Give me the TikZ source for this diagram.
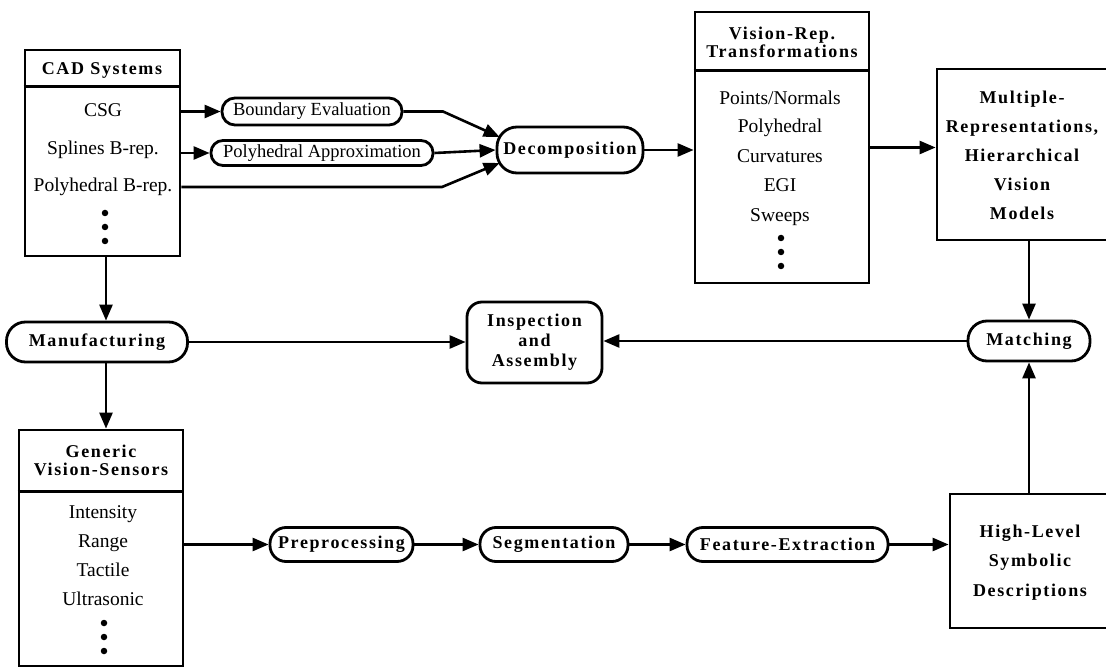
\documentclass[tikz,border=0pt]{standalone}
\usepackage{fontspec}
\setmainfont{Liberation Serif}
\newfontfamily\spc{Liberation Serif}[LetterSpace=9]
\usetikzlibrary{arrows.meta,calc}
\tikzset{
  ln/.style={line width=2.6pt},
  arr/.style={line width=2.6pt, -{Triangle[length=16pt,width=13pt]}},
  box/.style={draw, line width=2.8pt, inner sep=0pt},
  pill/.style={draw, line width=2.8pt, inner sep=0pt, rounded corners=#1},
  itm/.style={font=\fontsize{19.5}{22}\selectfont, inner sep=0pt, text height=13pt, text depth=4pt},
  pitm/.style={font=\fontsize{18.5}{22}\selectfont, text height=13pt, text depth=4pt},
  bld/.style={font=\fontsize{18}{#1}\selectfont\spc\bfseries, inner sep=0pt, align=center},
  bld/.default=20,
  dotn/.style={circle, fill, inner sep=0pt, minimum size=6.5pt},
}
\begin{document}
\begin{tikzpicture}[x=1pt,y=-1pt]
\useasboundingbox (0,0) rectangle (1106,668);
\clip (0,0) rectangle (1106,668);

% ---------- CAD Systems ----------
\node[box, minimum width=155pt, minimum height=206pt] (cad) at (102.5,153) {};
\draw[ln] ([yshift=-38pt]cad.north west) -- ([yshift=-38pt]cad.north east);
\node[bld] (cadt) at (102,70) {CAD\hspace{0.35em}Systems};
\node[itm] (c1) at (103,112) {CSG};
\node[itm] (c2) at (103,150) {Splines B-rep.};
\node[itm] (c3) at (103,187) {Polyhedral B-rep.};
\node[dotn] (cd1) at (105,213) {};
\node[dotn] (cd2) at (105,227) {};
\node[dotn] (cd3) at (105,241) {};

% ---------- top row ----------
\node[pill=13pt, pitm, minimum width=180pt, minimum height=27pt] (be) at (312,111.5) {Boundary Evaluation};
\node[pill=12pt, pitm, minimum width=222pt, minimum height=25pt] (pa) at (322,153) {Polyhedral Approximation};
\node[pill=20pt, bld, minimum width=146pt, minimum height=46pt] (dec) at (570,150) {Decomposition};

% ---------- Vision-Rep box ----------
\node[box, minimum width=174pt, minimum height=271pt] (vrb) at (782,147.5) {};
\draw[ln] ([yshift=-60pt]vrb.north west) -- ([yshift=-60pt]vrb.north east);
\node[bld=18] (vrt) at (782,42) {Vision-Rep.\\Transformations};
\node[itm] (v1) at (780,100) {Points/Normals};
\node[itm] (v2) at (780,128) {Polyhedral};
\node[itm] (v3) at (780,158) {Curvatures};
\node[itm] (v4) at (780,187) {EGI};
\node[itm] (v5) at (780,217) {Sweeps};
\node[dotn] (vd1) at (781,238) {};
\node[dotn] (vd2) at (781,252) {};
\node[dotn] (vd3) at (781,266) {};

% ---------- Multiple representations ----------
\node[box, minimum width=173pt, minimum height=171pt] (mrb) at (1023.5,154.5) {};
\node[bld=29] (mrt) at (1022,155) {Multiple-\\Representations,\\Hierarchical\\Vision\\Models};

% ---------- middle row ----------
\node[pill=19pt, bld, minimum width=181pt, minimum height=40pt] (man) at (97,342) {Manufacturing};
\node[pill=15pt, bld, minimum width=135pt, minimum height=81pt] (insp) at (534.5,342.5) {Inspection\\and\\Assembly};
\node[pill=19pt, bld, minimum width=122pt, minimum height=40pt] (mat) at (1029,341) {Matching};

% ---------- Generic Vision-Sensors ----------
\node[box, minimum width=164pt, minimum height=236pt] (gvs) at (101,548) {};
\draw[ln] ([yshift=-63pt]gvs.north west) -- ([yshift=-63pt]gvs.north east);
\node[bld=18] (gvt) at (101,460) {Generic\\Vision-Sensors};
\node[itm] (g1) at (103,514) {Intensity};
\node[itm] (g2) at (103,543) {Range};
\node[itm] (g3) at (103,572) {Tactile};
\node[itm] (g4) at (103,601) {Ultrasonic};
\node[dotn] (gd1) at (104,623) {};
\node[dotn] (gd2) at (104,637) {};
\node[dotn] (gd3) at (104,651) {};

% ---------- bottom row ----------
\node[pill=16pt, bld, minimum width=143pt, minimum height=34pt] (pre) at (341.5,544.5) {Preprocessing};
\node[pill=16pt, bld, minimum width=148pt, minimum height=34pt] (seg) at (554,544.5) {Segmentation};
\node[pill=16pt, bld, minimum width=201pt, minimum height=34pt] (fe) at (787.5,544.5) {Feature-Extraction};
\node[box, minimum width=160pt, minimum height=134pt] (hl) at (1030,561) {};
\node[bld=29.5] (hlt) at (1030,562.5) {High-Level\\Symbolic\\Descriptions};

% ---------- helper coordinates ----------
\coordinate (vx) at (106,0);
\coordinate (b1) at (443,111.5);
\coordinate (b2) at (442,187);

% ---------- connectors ----------
\draw[arr] (cad.east |- be.west) -- (be.west);
\draw[arr] (cad.east |- pa.west) -- (pa.west);
\draw[arr] (be.east) -- (b1) -- ([shift={(4,-13)}]dec.west);
\draw[arr] (pa.east) -- (dec.west);
\draw[arr] (cad.east |- c3) -- (b2) -- ([shift={(4,13)}]dec.west);
\draw[arr] (dec.east) -- (dec.east -| vrb.west);
\draw[arr] (vrb.east) -- (vrb.east -| mrb.west);
\draw[arr] (mrb.south -| mat) -- (mat.north);
\draw[arr] (hl.north -| mat) -- (mat.south);
\draw[arr] (mat.west) -- (mat.west -| insp.east);
\draw[arr] (man.east) -- (man.east -| insp.west);
\draw[arr] (cad.south -| vx) -- (man.north -| vx);
\draw[arr] (man.south -| vx) -- (gvs.north -| vx);
\draw[arr] (gvs.east |- pre.west) -- (pre.west);
\draw[arr] (pre.east) -- (seg.west);
\draw[arr] (seg.east) -- (fe.west);
\draw[arr] (fe.east) -- (fe.east -| hl.west);
\end{tikzpicture}
\end{document}
